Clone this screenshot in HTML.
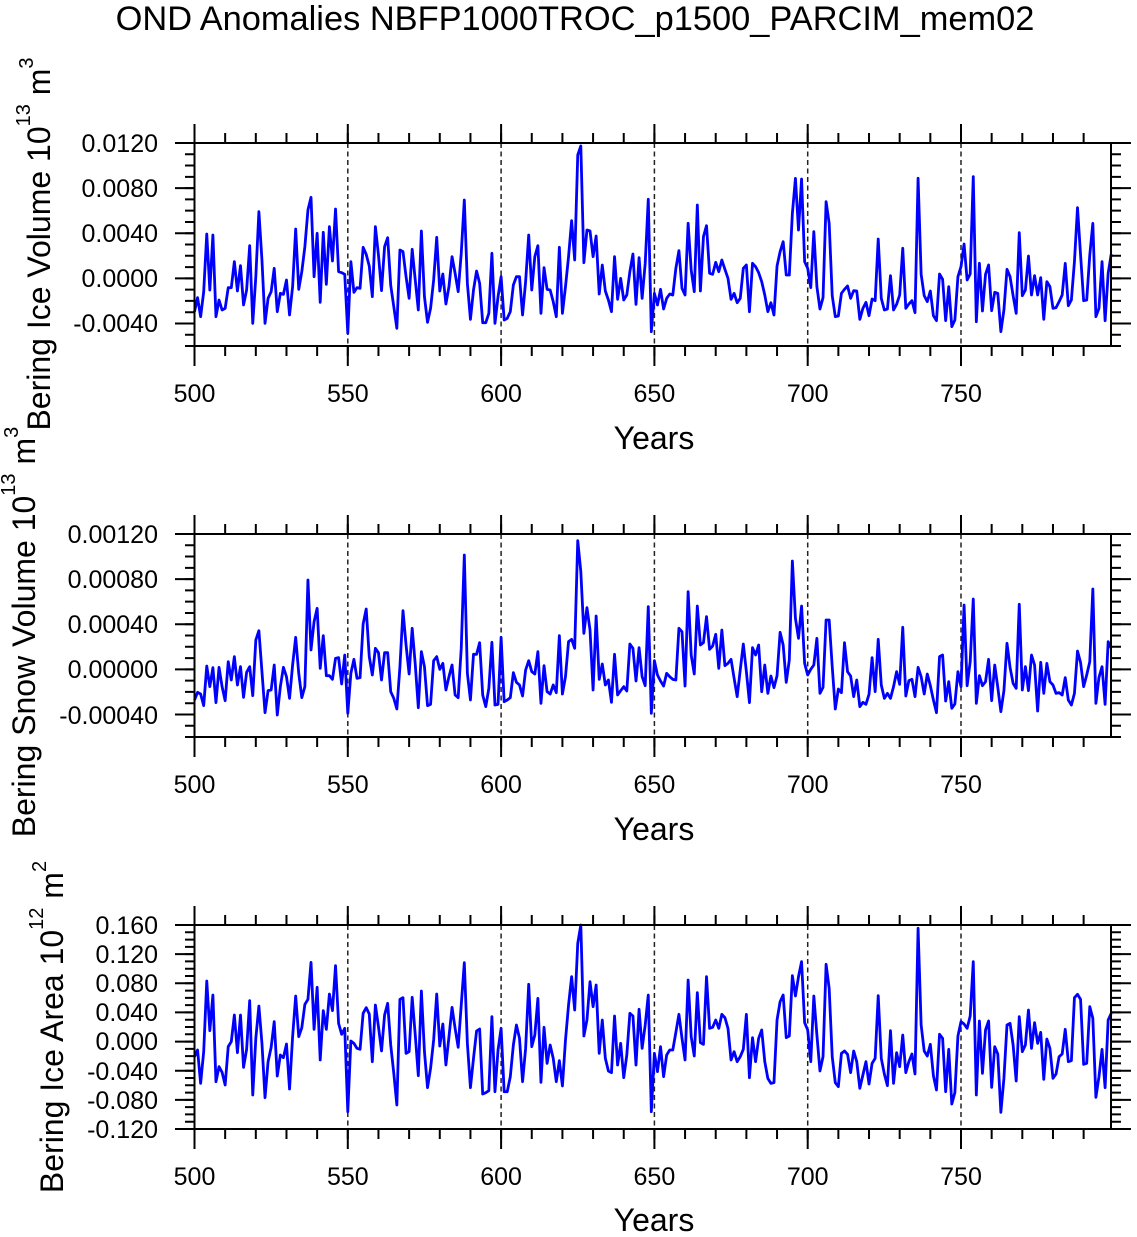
<!DOCTYPE html>
<html>
<head>
<meta charset="utf-8">
<style>
html,body{margin:0;padding:0;background:#fff;}
svg{display:block;}
text{font-family:"Liberation Sans",Helvetica,Arial,sans-serif;fill:#000;}
</style>
</head>
<body>
<svg width="1137" height="1237" viewBox="0 0 1137 1237" xmlns="http://www.w3.org/2000/svg">
<rect x="0" y="0" width="1137" height="1237" fill="#fff"/>
<text x="575" y="30" font-size="34.4" text-anchor="middle">OND Anomalies NBFP1000TROC_p1500_PARCIM_mem02</text>

<!-- ============ PANEL 1 ============ -->
<g stroke="#222" stroke-width="1.5" stroke-dasharray="5 3.5" fill="none">
<line x1="347.8" y1="143" x2="347.8" y2="346"/>
<line x1="501.1" y1="143" x2="501.1" y2="346"/>
<line x1="654.4" y1="143" x2="654.4" y2="346"/>
<line x1="807.7" y1="143" x2="807.7" y2="346"/>
<line x1="961" y1="143" x2="961" y2="346"/>
</g>
<polyline transform="translate(194.5,130) scale(3.066,0.333333)" fill="none" stroke="#0000ff" stroke-width="2.8" vector-effect="non-scaling-stroke" stroke-linejoin="round" points="0,545 1,503 2,560 3,485 4,312 5,480 6,315 7,560 8,510 9,540 10,535 11,473 12,473 13,395 14,483 15,407 16,525 17,480 18,347 19,580 20,440 21,245 22,390 23,580 24,505 25,485 26,415 27,545 28,490 29,493 30,450 31,555 32,470 33,297 34,478 35,425 36,350 37,240 38,202 39,440 40,310 41,517 42,307 43,463 44,290 45,393 46,237 47,425 48,428 49,433 50,610 51,395 52,487 53,473 54,475 55,352 56,373 57,408 58,500 59,290 60,375 61,482 62,350 63,323 64,466 65,530 66,595 67,360 68,365 69,440 70,505 71,358 72,450 73,540 74,303 75,500 76,577 77,535 78,450 79,322 80,483 81,432 82,522 83,470 84,380 85,430 86,485 87,370 88,210 89,460 90,568 91,480 92,423 93,460 94,578 95,578 96,550 97,370 98,580 99,500 100,440 101,570 102,565 103,545 104,465 105,440 106,440 107,555 108,455 109,315 110,480 111,380 112,347 113,550 114,413 115,478 116,480 117,515 118,560 119,352 120,550 121,470 122,380 123,272 124,390 125,75 126,48 127,398 128,300 129,303 130,380 131,318 132,492 133,405 134,483 135,510 136,545 137,380 138,508 139,445 140,510 141,495 142,425 143,372 144,523 145,383 146,505 147,400 148,208 149,605 150,490 151,525 152,478 153,537 154,505 155,492 156,495 157,415 158,362 159,475 160,495 161,280 162,420 163,485 164,225 165,483 166,320 167,287 168,430 169,433 170,397 171,425 172,390 173,418 174,445 175,508 176,490 177,518 178,505 179,415 180,405 181,545 182,400 183,410 184,428 185,455 186,495 187,545 188,518 189,555 190,408 191,365 192,335 193,435 194,435 195,250 196,145 197,300 198,147 199,395 200,415 201,473 202,305 203,470 204,537 205,503 206,215 207,280 208,497 209,560 210,558 211,490 212,478 213,468 214,505 215,482 216,483 217,568 218,535 219,517 220,557 221,507 222,512 223,327 224,505 225,540 226,537 227,437 228,540 229,523 230,495 231,355 232,535 233,522 234,512 235,548 236,145 237,433 238,497 239,515 240,483 241,557 242,572 243,432 244,448 245,572 246,470 247,590 248,570 249,440 250,410 251,342 252,450 253,432 254,140 255,575 256,400 257,543 258,433 259,405 260,542 261,487 262,490 263,605 264,540 265,418 266,440 267,497 268,550 269,308 270,497 271,480 272,378 273,495 274,437 275,495 276,443 277,568 278,455 279,470 280,535 281,533 282,515 283,495 284,400 285,527 286,510 287,395 288,233 289,375 290,512 291,510 292,375 293,280 294,560 295,535 296,395 297,572 298,430 299,372"/>
<g stroke="#000" fill="none">
<rect x="194.5" y="143" width="916.5" height="203" stroke-width="2"/>
<line x1="193.5" y1="138" x2="1112" y2="138" stroke-width="10" stroke-dasharray="2 28.66"/>
<line x1="193.5" y1="133.5" x2="1112" y2="133.5" stroke-width="19" stroke-dasharray="2 151.3"/>
<line x1="193.5" y1="351" x2="1112" y2="351" stroke-width="10" stroke-dasharray="2 28.66"/>
<line x1="193.5" y1="356" x2="1112" y2="356" stroke-width="20" stroke-dasharray="2 151.3"/>
<line x1="190" y1="142" x2="190" y2="348" stroke-width="10" stroke-dasharray="2 9.28"/>
<line x1="185" y1="142" x2="185" y2="348" stroke-width="20" stroke-dasharray="2 43.11"/>
<line x1="1116" y1="142" x2="1116" y2="348" stroke-width="10" stroke-dasharray="2 9.28"/>
<line x1="1121" y1="142" x2="1121" y2="348" stroke-width="20" stroke-dasharray="2 43.11"/>
</g>
<g font-size="25" text-anchor="end">
<text x="158" y="152">0.0120</text>
<text x="158" y="197">0.0080</text>
<text x="158" y="242">0.0040</text>
<text x="158" y="287">0.0000</text>
<text x="158" y="332">-0.0040</text>
</g>
<g font-size="25" text-anchor="middle">
<text x="194.5" y="402">500</text>
<text x="347.8" y="402">550</text>
<text x="501.1" y="402">600</text>
<text x="654.4" y="402">650</text>
<text x="807.7" y="402">700</text>
<text x="961" y="402">750</text>
</g>
<text x="654" y="449" font-size="32" text-anchor="middle">Years</text>
<text transform="translate(50,244) rotate(-90)" font-size="32" text-anchor="middle">Bering Ice Volume 10<tspan dy="-20" font-size="20">13</tspan><tspan dy="20"> m</tspan><tspan dy="-17" font-size="20">3</tspan></text>

<!-- ============ PANEL 2 ============ -->
<g stroke="#222" stroke-width="1.5" stroke-dasharray="5 3.5" fill="none">
<line x1="347.8" y1="534" x2="347.8" y2="737"/>
<line x1="501.1" y1="534" x2="501.1" y2="737"/>
<line x1="654.4" y1="534" x2="654.4" y2="737"/>
<line x1="807.7" y1="534" x2="807.7" y2="737"/>
<line x1="961" y1="534" x2="961" y2="737"/>
</g>
<polyline transform="translate(194.5,520) scale(3.066,0.333333)" fill="none" stroke="#0000ff" stroke-width="2.8" vector-effect="non-scaling-stroke" stroke-linejoin="round" points="0,540 1,517 2,522 3,557 4,438 5,500 6,443 7,548 8,442 9,500 10,542 11,425 12,480 13,410 14,495 15,440 16,532 17,457 18,440 19,527 20,360 21,332 22,455 23,578 24,512 25,510 26,435 27,585 28,500 29,442 30,470 31,535 32,435 33,352 34,460 35,533 36,500 37,180 38,390 39,305 40,265 41,445 42,347 43,467 44,467 45,478 46,415 47,413 48,492 49,405 50,580 51,460 52,418 53,475 54,473 55,312 56,267 57,410 58,465 59,385 60,398 61,480 62,398 63,398 64,515 65,535 66,567 67,440 68,272 69,375 70,462 71,325 72,433 73,563 74,395 75,440 76,557 77,553 78,422 79,410 80,448 81,430 82,510 83,470 84,435 85,525 86,533 87,385 88,105 89,460 90,540 91,403 92,403 93,368 94,525 95,560 96,505 97,367 98,555 99,553 100,352 101,545 102,540 103,533 104,458 105,487 106,495 107,528 108,450 109,422 110,455 111,462 112,395 113,550 114,437 115,515 116,522 117,495 118,518 119,347 120,522 121,470 122,365 123,358 124,385 125,62 126,155 127,340 128,263 129,330 130,510 131,288 132,478 133,432 134,495 135,480 136,547 137,403 138,525 139,512 140,500 141,513 142,372 143,385 144,483 145,383 146,470 147,497 148,260 149,580 150,422 151,465 152,483 153,498 154,460 155,470 156,478 157,480 158,325 159,335 160,498 161,215 162,405 163,462 164,258 165,375 166,368 167,290 168,388 169,378 170,343 171,445 172,330 173,437 174,430 175,418 176,475 177,530 178,450 179,372 180,455 181,548 182,383 183,405 184,375 185,515 186,435 187,520 188,468 189,503 190,467 191,337 192,375 193,487 194,420 195,123 196,295 197,355 198,258 199,430 200,465 201,448 202,435 203,355 204,520 205,502 206,300 207,300 208,440 209,567 210,507 211,518 212,368 213,455 214,468 215,530 216,480 217,560 218,547 219,553 220,523 221,413 222,515 223,358 224,495 225,535 226,520 227,535 228,500 229,455 230,493 231,322 232,528 233,482 234,478 235,530 236,442 237,470 238,522 239,462 240,497 241,540 242,578 243,410 244,405 245,543 246,485 247,565 248,552 249,455 250,500 251,255 252,497 253,425 254,237 255,550 256,467 257,497 258,485 259,418 260,542 261,435 262,502 263,575 264,512 265,370 266,442 267,490 268,505 269,253 270,510 271,440 272,512 273,405 274,435 275,573 276,427 277,520 278,430 279,485 280,495 281,520 282,518 283,525 284,473 285,540 286,555 287,520 288,393 289,428 290,500 291,465 292,425 293,207 294,550 295,472 296,440 297,553 298,365 299,385"/>
<g stroke="#000" fill="none">
<rect x="194.5" y="534" width="916.5" height="203" stroke-width="2"/>
<line x1="193.5" y1="529" x2="1112" y2="529" stroke-width="10" stroke-dasharray="2 28.66"/>
<line x1="193.5" y1="524.5" x2="1112" y2="524.5" stroke-width="19" stroke-dasharray="2 151.3"/>
<line x1="193.5" y1="742" x2="1112" y2="742" stroke-width="10" stroke-dasharray="2 28.66"/>
<line x1="193.5" y1="747" x2="1112" y2="747" stroke-width="20" stroke-dasharray="2 151.3"/>
<line x1="190" y1="533" x2="190" y2="739" stroke-width="10" stroke-dasharray="2 9.28"/>
<line x1="185" y1="533" x2="185" y2="739" stroke-width="20" stroke-dasharray="2 43.11"/>
<line x1="1116" y1="533" x2="1116" y2="739" stroke-width="10" stroke-dasharray="2 9.28"/>
<line x1="1121" y1="533" x2="1121" y2="739" stroke-width="20" stroke-dasharray="2 43.11"/>
</g>
<g font-size="25" text-anchor="end">
<text x="158" y="543">0.00120</text>
<text x="158" y="588">0.00080</text>
<text x="158" y="633">0.00040</text>
<text x="158" y="678">0.00000</text>
<text x="158" y="724">-0.00040</text>
</g>
<g font-size="25" text-anchor="middle">
<text x="194.5" y="793">500</text>
<text x="347.8" y="793">550</text>
<text x="501.1" y="793">600</text>
<text x="654.4" y="793">650</text>
<text x="807.7" y="793">700</text>
<text x="961" y="793">750</text>
</g>
<text x="654" y="840" font-size="32" text-anchor="middle">Years</text>
<text transform="translate(35,632) rotate(-90)" font-size="32" text-anchor="middle">Bering Snow Volume 10<tspan dy="-20" font-size="20">13</tspan><tspan dy="20"> m</tspan><tspan dy="-17" font-size="20">3</tspan></text>

<!-- ============ PANEL 3 ============ -->
<g stroke="#222" stroke-width="1.5" stroke-dasharray="5 3.5" fill="none">
<line x1="347.8" y1="925" x2="347.8" y2="1129"/>
<line x1="501.1" y1="925" x2="501.1" y2="1129"/>
<line x1="654.4" y1="925" x2="654.4" y2="1129"/>
<line x1="807.7" y1="925" x2="807.7" y2="1129"/>
<line x1="961" y1="925" x2="961" y2="1129"/>
</g>
<polyline transform="translate(194.5,910) scale(3.066,0.333333)" fill="none" stroke="#0000ff" stroke-width="2.8" vector-effect="non-scaling-stroke" stroke-linejoin="round" points="0,440 1,420 2,520 3,425 4,213 5,362 6,255 7,515 8,470 9,487 10,525 11,410 12,395 13,315 14,428 15,315 16,472 17,418 18,272 19,555 20,385 21,288 22,400 23,563 24,455 25,412 26,335 27,498 28,435 29,443 30,402 31,537 32,380 33,258 34,380 35,353 36,283 37,268 38,157 39,358 40,232 41,450 42,302 43,358 44,252 45,302 46,167 47,340 48,373 49,355 50,605 51,393 52,400 53,415 54,418 55,310 56,293 57,312 58,455 59,285 60,350 61,423 62,315 63,280 64,405 65,490 66,585 67,268 68,263 69,430 70,425 71,262 72,375 73,497 74,243 75,425 76,533 77,475 78,390 79,252 80,408 81,342 82,465 83,380 84,292 85,355 86,412 87,285 88,158 89,400 90,533 91,445 92,363 93,357 94,552 95,548 96,542 97,320 98,545 99,420 100,355 101,545 102,545 103,500 104,405 105,345 106,385 107,515 108,415 109,223 110,410 111,375 112,265 113,517 114,352 115,460 116,405 117,445 118,515 119,452 120,528 121,390 122,285 123,200 124,300 125,100 126,45 127,378 128,330 129,215 130,290 131,225 132,430 133,330 134,445 135,483 136,488 137,318 138,465 139,400 140,503 141,435 142,310 143,318 144,465 145,298 146,415 147,345 148,255 149,605 150,430 151,485 152,410 153,500 154,435 155,420 156,420 157,367 158,313 159,385 160,450 161,210 162,380 163,438 164,248 165,398 166,403 167,200 168,355 169,352 170,330 171,355 172,313 173,323 174,355 175,450 176,425 177,455 178,440 179,418 180,313 181,503 182,383 183,455 184,385 185,360 186,455 187,505 188,520 189,518 190,330 191,275 192,255 193,383 194,378 195,197 196,258 197,200 198,155 199,338 200,360 201,455 202,258 203,375 204,483 205,440 206,163 207,235 208,440 209,518 210,530 211,430 212,423 213,433 214,488 215,423 216,455 217,535 218,495 219,455 220,522 221,460 222,445 223,257 224,445 225,492 226,527 227,362 228,520 229,428 230,470 231,375 232,488 233,455 234,432 235,492 236,55 237,345 238,423 239,438 240,403 241,497 242,540 243,373 244,385 245,545 246,418 247,582 248,548 249,378 250,335 251,342 252,355 253,318 254,155 255,555 256,333 257,490 258,360 259,333 260,532 261,410 262,432 263,607 264,505 265,345 266,340 267,405 268,513 269,320 270,425 271,405 272,300 273,415 274,338 275,400 276,367 277,508 278,387 279,415 280,505 281,492 282,440 283,432 284,358 285,455 286,452 287,263 288,253 289,268 290,463 291,460 292,290 293,325 294,562 295,500 296,418 297,533 298,330 299,310"/>
<g stroke="#000" fill="none">
<rect x="194.5" y="925" width="916.5" height="204" stroke-width="2"/>
<line x1="193.5" y1="920" x2="1112" y2="920" stroke-width="10" stroke-dasharray="2 28.66"/>
<line x1="193.5" y1="915.5" x2="1112" y2="915.5" stroke-width="19" stroke-dasharray="2 151.3"/>
<line x1="193.5" y1="1134" x2="1112" y2="1134" stroke-width="10" stroke-dasharray="2 28.66"/>
<line x1="193.5" y1="1139" x2="1112" y2="1139" stroke-width="20" stroke-dasharray="2 151.3"/>
<line x1="190" y1="924" x2="190" y2="1131" stroke-width="10" stroke-dasharray="2 5.2857"/>
<line x1="185" y1="924" x2="185" y2="1131" stroke-width="20" stroke-dasharray="2 27.143"/>
<line x1="1116" y1="924" x2="1116" y2="1131" stroke-width="10" stroke-dasharray="2 5.2857"/>
<line x1="1121" y1="924" x2="1121" y2="1131" stroke-width="20" stroke-dasharray="2 27.143"/>
</g>
<g font-size="25" text-anchor="end">
<text x="158" y="934">0.160</text>
<text x="158" y="963">0.120</text>
<text x="158" y="992">0.080</text>
<text x="158" y="1021">0.040</text>
<text x="158" y="1050">0.000</text>
<text x="158" y="1080">-0.040</text>
<text x="158" y="1109">-0.080</text>
<text x="158" y="1138">-0.120</text>
</g>
<g font-size="25" text-anchor="middle">
<text x="194.5" y="1185">500</text>
<text x="347.8" y="1185">550</text>
<text x="501.1" y="1185">600</text>
<text x="654.4" y="1185">650</text>
<text x="807.7" y="1185">700</text>
<text x="961" y="1185">750</text>
</g>
<text x="654" y="1231" font-size="32" text-anchor="middle">Years</text>
<text transform="translate(63,1027) rotate(-90)" font-size="32" text-anchor="middle">Bering Ice Area 10<tspan dy="-20" font-size="20">12</tspan><tspan dy="20"> m</tspan><tspan dy="-17" font-size="20">2</tspan></text>
</svg>
</body>
</html>
